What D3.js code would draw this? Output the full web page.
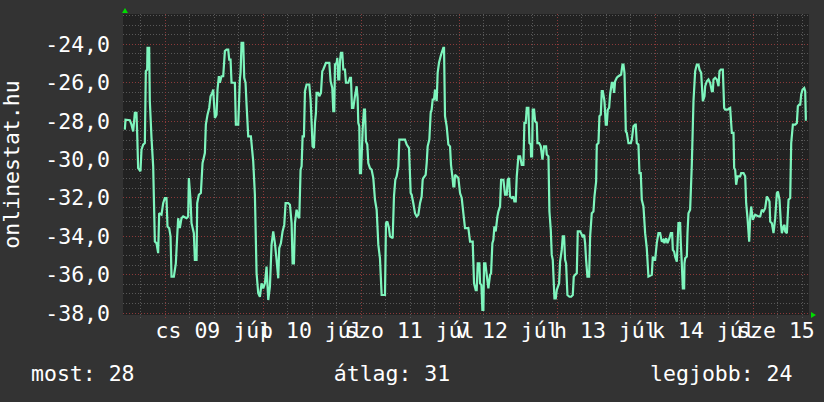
<!DOCTYPE html>
<html><head><meta charset="utf-8">
<script src="https://cdn.jsdelivr.net/npm/d3@7"></script>
<style>
html,body{margin:0;padding:0;background:#333333;}
svg{display:block;}
text{font-family:"DejaVu Sans Mono",monospace;fill:#ffffff;}
</style></head>
<body>
<script>
// ---- data (hours since 2015-07-08 00:00, value) ----
const series = [
[14.20,-28.47],[14.36,-27.95],[15.42,-27.98],[15.83,-28.21],[16.24,-28.56],[16.65,-27.60],[17.05,-27.60],[17.22,-28.64],[17.46,-30.47],[18.03,-30.64],[18.28,-29.51],[18.69,-29.25],[19.10,-29.17],[19.34,-25.43],[19.67,-25.34],[19.75,-24.21],[20.16,-24.21],[20.32,-26.99],[20.73,-28.90],[21.14,-30.38],[21.55,-34.30],[21.95,-34.38],[22.36,-34.90],[22.61,-32.82],[23.18,-32.90],[23.59,-32.30],[23.99,-32.03],[24.40,-32.03],[24.65,-33.51],[25.06,-33.60],[25.39,-34.03],[25.63,-36.12],[26.20,-36.12],[26.69,-35.43],[27.02,-34.03],[27.26,-33.08],[27.67,-33.60],[28.08,-33.08],[28.49,-32.99],[29.31,-33.08],[29.71,-32.99],[29.88,-30.99],[30.29,-32.12],[30.53,-33.34],[31.10,-33.86],[31.35,-35.25],[31.76,-35.25],[31.92,-32.30],[32.33,-31.86],[32.82,-31.77],[33.23,-30.21],[33.80,-29.69],[34.04,-28.21],[34.45,-27.69],[34.86,-27.34],[35.19,-26.73],[35.60,-26.56],[35.84,-26.38],[36.25,-27.86],[36.66,-27.69],[36.90,-26.38],[37.23,-25.69],[37.47,-26.03],[37.88,-25.69],[38.29,-25.69],[38.70,-24.38],[39.11,-24.30],[39.52,-24.30],[39.76,-24.82],[40.09,-24.82],[40.33,-26.03],[41.15,-26.03],[41.39,-28.21],[41.97,-28.21],[42.37,-25.86],[42.54,-25.51],[42.78,-23.95],[43.19,-23.95],[43.44,-25.77],[43.76,-26.03],[44.01,-27.17],[44.42,-28.82],[45.07,-28.82],[45.64,-30.12],[46.05,-31.86],[46.46,-35.95],[46.87,-36.99],[47.28,-37.17],[47.68,-36.47],[48.09,-36.73],[48.50,-36.47],[48.91,-35.60],[49.32,-37.34],[49.73,-36.64],[50.13,-34.47],[50.54,-33.77],[50.95,-34.38],[51.36,-35.25],[51.77,-36.21],[52.01,-34.64],[52.42,-34.38],[52.83,-33.77],[53.24,-33.43],[53.57,-32.30],[54.22,-32.30],[54.63,-32.38],
[55.04,-33.34],[55.28,-35.43],[55.61,-35.43],[55.86,-33.34],[56.26,-32.64],[56.67,-32.99],[56.92,-33.08],[57.24,-30.56],[57.49,-30.38],[57.73,-28.82],[58.06,-28.82],[58.31,-26.47],[58.71,-26.12],[59.37,-26.12],[59.69,-26.90],[59.94,-28.12],[60.18,-29.34],[60.51,-29.43],[60.76,-28.12],[61.00,-27.60],[61.16,-26.56],[61.57,-26.56],[61.82,-26.73],[62.23,-26.56],[62.55,-25.43],[62.80,-25.34],[63.45,-24.99],[64.27,-24.99],[64.60,-25.95],[65.00,-26.30],[65.25,-27.51],[65.49,-27.51],[65.66,-25.08],[66.07,-24.99],[66.23,-24.73],[66.47,-25.86],[66.72,-25.86],[66.88,-24.90],[67.13,-24.47],[67.45,-24.47],[67.70,-25.34],[68.11,-25.34],[68.35,-26.03],[68.92,-26.03],[69.33,-25.77],[69.58,-25.77],[69.82,-27.34],[70.15,-27.34],[70.56,-26.73],[70.97,-26.21],[71.21,-26.82],[71.37,-28.12],[71.62,-28.30],[71.78,-30.73],[72.03,-30.73],[72.44,-28.47],[72.76,-27.43],[73.01,-27.43],[73.25,-29.08],[73.58,-29.25],[73.82,-30.21],[74.23,-30.47],[74.64,-30.56],[75.05,-30.99],[75.46,-32.12],[75.87,-32.64],[76.28,-34.47],[76.68,-35.17],[77.09,-37.08],[77.91,-37.08],[78.15,-33.34],[78.48,-33.25],[78.89,-33.60],[79.13,-34.03],[79.79,-34.12],[80.11,-31.95],[80.44,-31.08],[80.77,-30.90],[81.18,-30.38],[81.42,-28.99],[82.81,-28.99],[83.22,-29.25],[83.79,-29.43],[84.20,-31.77],[84.44,-31.86],[84.85,-32.30],[85.26,-32.82],[85.67,-32.99],[86.08,-32.90],[86.49,-32.30],[86.89,-31.95],[87.14,-31.08],[87.30,-30.99],[87.87,-30.82],[88.12,-30.21],[88.36,-29.34],[88.77,-28.99],[89.10,-27.60],[89.34,-27.43],[89.59,-26.90],[89.92,-26.90],[90.16,-26.38],[90.57,-26.99],[90.81,-25.51],[91.14,-24.99],[91.55,-24.64],[91.79,-24.47],[92.20,-24.21],[92.37,-24.21],[92.61,-27.77],[93.02,-28.30],[93.43,-29.25],[93.84,-29.34],[94.08,-30.30],[94.41,-30.90],[94.65,-31.43],[94.90,-31.43],[95.06,-30.82],[95.47,-30.90],[95.88,-30.99],[96.29,-31.77],[96.70,-32.03],[97.10,-32.82],[97.51,-33.60],[98.33,-33.60],
[98.74,-34.30],[99.39,-34.30],[99.72,-36.47],[100.13,-36.82],[100.37,-36.82],[100.62,-35.43],[101.03,-35.43],[101.19,-36.47],[101.52,-36.56],[101.76,-37.86],[102.01,-37.86],[102.17,-35.43],[102.50,-35.43],[102.82,-36.03],[103.23,-36.73],[103.64,-36.03],[103.89,-35.95],[104.21,-34.38],[104.46,-34.21],[104.70,-33.51],[105.03,-33.77],[105.44,-32.99],[105.68,-32.73],[106.09,-32.47],[106.34,-31.08],[106.91,-31.08],[107.32,-31.86],[107.73,-31.86],[107.97,-31.08],[108.30,-30.99],[108.54,-31.95],[108.95,-32.03],[109.36,-31.95],[109.60,-32.21],[109.93,-32.21],[110.18,-30.90],[110.58,-29.86],[110.99,-29.86],[111.40,-30.30],[111.81,-30.30],[112.05,-28.12],[112.38,-28.12],[112.63,-27.34],[113.03,-27.34],[113.28,-29.17],[113.61,-29.25],[113.69,-29.86],[113.93,-29.86],[114.10,-27.43],[114.42,-27.43],[114.67,-28.03],[115.08,-28.12],[115.24,-29.17],[115.65,-29.17],[116.06,-29.34],[116.47,-30.03],[116.87,-29.34],[117.36,-29.34],[117.53,-29.77],[117.94,-29.86],[118.18,-32.73],[118.51,-33.69],[118.75,-34.99],[119.00,-35.25],[119.41,-37.25],[119.73,-37.25],[119.98,-36.82],[120.55,-36.47],[120.79,-35.34],[121.20,-34.73],[121.45,-34.03],[121.77,-34.03],[122.02,-35.25],[122.26,-35.43],[122.59,-37.08],[123.08,-37.17],[123.49,-37.17],[123.90,-37.08],[124.14,-36.12],[124.47,-36.03],[124.88,-35.95],[125.12,-33.77],[125.69,-33.77],[125.94,-33.86],[126.27,-34.03],[126.68,-33.95],[126.92,-34.38],[127.16,-35.25],[127.49,-36.12],[127.90,-36.12],[128.15,-34.03],[128.55,-32.82],[128.96,-32.73],[129.21,-31.95],[129.62,-31.17],[129.78,-29.25],[130.19,-29.17],[130.43,-27.77],[130.76,-27.69],[131.00,-26.47],[131.25,-26.47],[131.66,-26.99],[131.98,-28.21],[132.23,-28.21],[132.47,-27.43],[132.80,-27.34],[133.05,-26.64],[133.45,-26.03],[133.70,-26.03],[134.03,-26.56],[134.27,-25.95],[134.68,-25.77],[135.09,-25.69],[135.74,-25.60],[136.07,-25.08],[136.31,-25.08],[136.56,-25.51],[136.89,-28.56],[137.13,-28.64],[137.54,-29.17],[138.11,-29.17],[138.36,-28.99],[138.76,-28.30],[139.17,-28.21],
[139.33,-28.21],[139.57,-29.17],[139.98,-29.25],[140.23,-30.73],[140.55,-30.73],[140.80,-32.12],[141.21,-32.47],[141.62,-33.86],[142.02,-34.64],[142.43,-36.12],[143.25,-36.03],[143.49,-35.08],[143.82,-35.25],[144.07,-35.25],[144.47,-34.38],[144.88,-33.86],[145.29,-33.86],[145.70,-34.30],[146.11,-34.21],[146.35,-34.38],[146.76,-34.12],[147.09,-34.38],[147.58,-34.12],[147.91,-33.86],[148.23,-33.86],[148.40,-34.73],[148.72,-34.82],[148.97,-35.08],[149.38,-35.34],[149.78,-33.34],[150.19,-33.34],[150.36,-34.38],[150.60,-35.43],[150.85,-36.73],[151.17,-36.73],[151.25,-35.43],[151.42,-35.17],[151.83,-35.08],[151.99,-33.86],[152.23,-32.82],[152.64,-32.64],[153.05,-30.30],[153.46,-26.99],[153.87,-25.43],[154.28,-25.08],[154.68,-25.08],[154.93,-25.34],[155.34,-25.51],[155.75,-26.99],[156.15,-26.73],[156.32,-26.21],[156.73,-25.95],[157.13,-25.86],[157.54,-26.03],[157.95,-26.47],[158.20,-26.47],[158.36,-25.86],[158.77,-25.77],[159.18,-25.86],[159.59,-26.21],[159.83,-25.43],[160.16,-25.34],[160.65,-25.34],[160.97,-27.34],[161.22,-27.43],[161.79,-27.43],[162.44,-27.34],[162.85,-28.64],[163.26,-28.64],[163.42,-30.47],[163.67,-30.56],[163.91,-31.34],[164.24,-30.90],[164.89,-30.90],[165.14,-30.73],[165.71,-30.73],[166.12,-30.90],[166.36,-32.30],[166.69,-33.08],[167.10,-34.30],[167.34,-33.08],[167.59,-32.47],[168.00,-33.17],[168.16,-33.08],[168.57,-32.90],[169.39,-32.99],[169.80,-32.99],[170.20,-32.64],[170.61,-32.73],[171.02,-32.56],[171.43,-31.95],[171.67,-32.03],[172.08,-32.21],[172.25,-33.25],[172.65,-33.34],[173.06,-33.86],[173.47,-33.08],[173.88,-31.77],[174.13,-31.69],[174.53,-32.12],[174.86,-33.34],[175.11,-33.86],[175.51,-33.51],[175.76,-33.43],[175.92,-33.77],[176.33,-33.86],[176.74,-32.12],[177.15,-32.03],[177.39,-29.17],[177.80,-28.21],[178.37,-28.21],[178.78,-28.12],[179.02,-27.25],[179.35,-27.17],[179.60,-27.17],[179.84,-26.64],[180.17,-26.38],[180.58,-26.30],[180.82,-26.47],[180.98,-27.95],[181.23,-27.95]
];
const yTickValues = [-38,-36,-34,-32,-30,-28,-26,-24];
const dayLabels = ["cs 09 júl","p 10 júl","szo 11 júl","v 12 júl","h 13 júl","k 14 júl","sze 15 júl"];
const axisTitle = "onlinestat.hu";
const legendLabels = ["most: 28","átlag: 31","legjobb: 24"];

// ---- setup ----
const W = 824, H = 402;
const base = new Date(2015, 6, 8, 0, 0, 0);
const toDate = h => new Date(base.getTime() + h * 3600e3);
const plot = {left:123, right:809, top:14, bottom:315};

const x = d3.scaleTime().domain([toDate(13.75), toDate(181.75)]).range([plot.left, plot.right]);
const y = d3.scaleLinear().domain([-38.12, -22.45]).range([plot.bottom, plot.top]);

const svg = d3.select("body").append("svg").attr("width", W).attr("height", H);
svg.append("rect").attr("width", W).attr("height", H).attr("fill", "#333333");
svg.append("rect").attr("x", plot.left).attr("y", plot.top)
  .attr("width", plot.right - plot.left).attr("height", plot.bottom - plot.top).attr("fill", "#222222");

const minorCol = "#585858", majorCol = "#8a3a3a";
const g = svg.append("g");

// minor horizontal grid every 0.5
const yMinor = d3.range(-38, -22.4, 0.5).filter(v => !yTickValues.includes(v));
g.selectAll(".hmin").data(yMinor).join("line")
  .attr("x1", plot.left).attr("x2", plot.right)
  .attr("y1", d => Math.round(y(d)) + 0.5).attr("y2", d => Math.round(y(d)) + 0.5)
  .attr("stroke", minorCol).attr("stroke-dasharray", "1,2");

// minor vertical grid every 6h
const xMinor = x.ticks(d3.timeHour.every(6)).filter(d => d.getHours() !== 0);
g.selectAll(".vmin").data(xMinor).join("line")
  .attr("x1", d => Math.round(x(d)) + 0.5).attr("x2", d => Math.round(x(d)) + 0.5)
  .attr("y1", plot.top).attr("y2", plot.bottom + 3)
  .attr("stroke", minorCol).attr("stroke-dasharray", "1,2");

// major horizontal
g.selectAll(".hmaj").data(yTickValues).join("line")
  .attr("x1", plot.left).attr("x2", plot.right)
  .attr("y1", d => Math.round(y(d)) + 0.5).attr("y2", d => Math.round(y(d)) + 0.5)
  .attr("stroke", majorCol).attr("stroke-dasharray", "1,2");

// major vertical (midnight)
const xMajor = x.ticks(d3.timeDay.every(1));
g.selectAll(".vmaj").data(xMajor).join("line")
  .attr("x1", d => Math.round(x(d)) + 0.5).attr("x2", d => Math.round(x(d)) + 0.5)
  .attr("y1", plot.top).attr("y2", plot.bottom + 3)
  .attr("stroke", majorCol).attr("stroke-dasharray", "1,2");

// y labels
const fmt = d3.formatLocale({decimal: ",", thousands: " ", grouping: [3], currency: ["", ""], minus: "-"}).format(".1f");
svg.selectAll(".ylab").data(yTickValues).join("text")
  .attr("x", 110).attr("y", d => y(d) + 8)
  .attr("text-anchor", "end").attr("font-size", "21.5px")
  .text(d => fmt(d));

// x labels at noon of each day
svg.selectAll(".xlab").data(dayLabels).join("text")
  .attr("x", (d, i) => x(toDate(36 + 24 * i)))
  .attr("y", 338).attr("text-anchor", "middle").attr("font-size", "21.5px")
  .text(d => d);

// axis title
svg.append("text").attr("transform", `translate(19,${(plot.top + plot.bottom) / 2}) rotate(-90)`)
  .attr("text-anchor", "middle").attr("font-size", "21.5px").text(axisTitle);

// line
const line = d3.line().x(d => x(toDate(d[0]))).y(d => y(d[1]));
svg.append("path").datum(series).attr("d", line)
  .attr("fill", "none").attr("stroke", "#7ef5bd").attr("stroke-width", 2.2)
  .attr("stroke-linejoin", "miter").attr("stroke-miterlimit", 2);

// arrows
svg.append("path").attr("d", `M${plot.left - 1},13 L${plot.left + 2},8 L${plot.left + 5},13 Z`).attr("fill", "#00dd00");
svg.append("path").attr("d", `M811,${plot.bottom - 3} L816,${plot.bottom} L811,${plot.bottom + 3} Z`).attr("fill", "#00dd00");

// legend
svg.append("text").attr("x", 31).attr("y", 381).attr("font-size", "21.5px").text(legendLabels[0]);
svg.append("text").attr("x", 392).attr("y", 381).attr("text-anchor", "middle").attr("font-size", "21.5px").text(legendLabels[1]);
svg.append("text").attr("x", 792.5).attr("y", 381).attr("text-anchor", "end").attr("font-size", "21.5px").text(legendLabels[2]);
</script>
</body></html>
